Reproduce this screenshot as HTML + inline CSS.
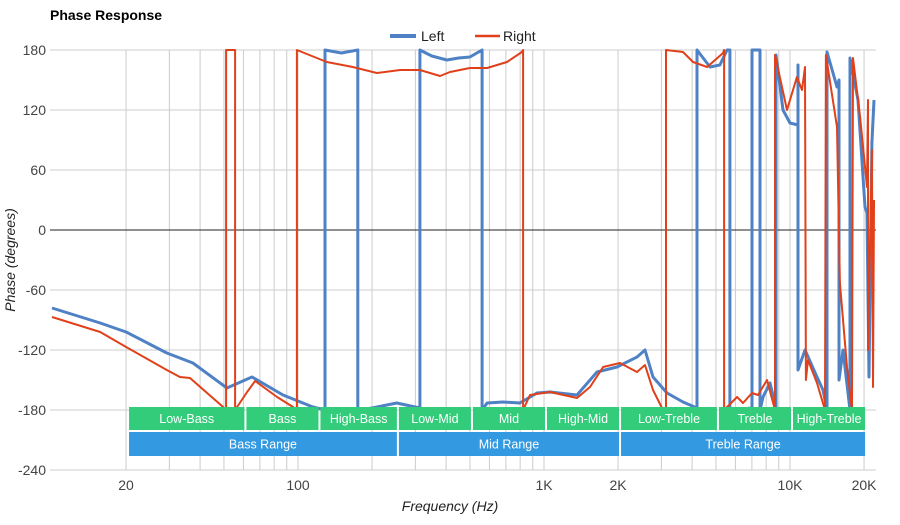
<!DOCTYPE html>
<html><head><meta charset="utf-8"><style>
body{margin:0;background:#fff;}
svg text{font-family:"Liberation Sans",sans-serif;}
</style></head><body>
<svg id="chart" width="900" height="520" viewBox="0 0 900 520" xmlns="http://www.w3.org/2000/svg">
<defs><clipPath id="plotclip"><rect x="50" y="48" width="826" height="424"/></clipPath></defs>
<text x="50" y="20" font-size="14" font-weight="bold" fill="#000">Phase Response</text>
<g>
<g><line x1="390" y1="36" x2="416" y2="36" stroke="#4f81c5" stroke-width="4"/><text x="421" y="41" font-size="14" fill="#222">Left</text></g>
<g><line x1="475" y1="36" x2="500" y2="36" stroke="#e0401a" stroke-width="2.5"/><text x="503" y="41" font-size="14" fill="#222">Right</text></g>
</g>
<g id="grid"></g>
<g id="series" clip-path="url(#plotclip)"></g>
<g id="bands"></g>
<g id="axes"></g>
<text x="450" y="511" font-size="14" font-style="italic" text-anchor="middle" fill="#222">Frequency (Hz)</text>
<text transform="translate(15,260) rotate(-90)" font-size="14" font-style="italic" text-anchor="middle" fill="#222">Phase (degrees)</text>
</svg>
<script>
const yTicks=[180,120,60,0,-60,-120,-180,-240];
const xTickVals=[20,100,1000,2000,10000,20000];
const xTickLabels=["20","100","1K","2K","10K","20K"];
const gridFreqs=[20,30,40,50,60,70,80,90,100,200,300,400,500,600,700,800,900,1000,2000,3000,4000,5000,6000,7000,8000,9000,10000,20000];
const bandNames=["Low-Bass","Bass","High-Bass","Low-Mid","Mid","High-Mid","Low-Treble","Treble","High-Treble"];
const bandEdges=[20,60,120,250,500,1000,2000,5000,10000,20000];
const rangeNames=["Bass Range","Mid Range","Treble Range"];
const rangeEdges=[20,250,2000,20000];
const leftFreq=[10,15.7,20,29.3,37.4,51.4,65,86.9,115,128.7,128.7,150,175,175,200,252,313,313,350,403,450,500,560,560,587,681,798,936,1058,1362,1642,1981,2388,2574,2773,3162,3673,4188,4188,4730,5190,5546,5700,5700,7005,7005,7550,7550,7766,8295,8770,8770,9365,10000,10780,10780,10780,11510,12880,13620,14140,14140,15530,15820,15820,16430,17540,17540,18900,20180,20560,20940,21530,21960];
const leftPhase=[-78,-93,-102,-123,-133,-158,-147,-165,-177,-180,180,177,180,-180,-178,-173,-178,180,174,170,172,173,180,-180,-173,-172,-173,-163,-162,-165,-142,-137,-127,-120,-147,-163,-172,-178,180,163,165,180,180,-180,-178,180,180,-180,-167,-153,-178,175,120,107,105,165,-140,-120,-147,-160,-180,178,143,150,-150,-120,-180,172,130,23,17,-147,87,130];
const rightFreq=[10,15.7,20,29.3,33.1,36.4,49.6,51,51,55.5,55.5,62.1,66.9,82.2,95.4,99,99,131,167,209,260,313,378,415,500,587,707,813,822,822,877,1058,1362,1538,1738,2037,2388,2574,2773,3047,3133,3133,3673,4034,4603,5346,5397,5397,6093,6442,7005,7413,8064,8690,8690,9722,10670,11190,11510,11610,11830,12880,13870,14000,15530,15960,17050,17870,18040,19270,20560,20750,20750,21530,21740,21960];
const rightPhase=[-87,-102,-117,-140,-147,-148,-177,-180,180,180,-180,-162,-151,-167,-177,-180,180,168,163,157,160,160,154,158,162,162,168,178,180,-180,-165,-162,-168,-157,-137,-133,-142,-135,-160,-180,-180,180,178,168,163,177,180,-180,-167,-173,-163,-165,-150,-180,175,120,153,140,163,-150,-130,-153,-180,175,103,-53,-137,-180,172,113,43,130,-120,80,-157,30];

const NS="http://www.w3.org/2000/svg";
function X(f){return 298+246*Math.log10(f/100);}
function Y(v){return 230-v;}
function mk(tag,attrs,parent){const e=document.createElementNS(NS,tag);for(const k in attrs)e.setAttribute(k,attrs[k]);parent.appendChild(e);return e;}
const grid=document.getElementById('grid'),axes=document.getElementById('axes'),series=document.getElementById('series'),bands=document.getElementById('bands');
gridFreqs.forEach(f=>{
  const l=mk('line',{x1:X(f),x2:X(f),y1:50,y2:470,stroke:'#ccc','stroke-width':1},grid);
  
  
});
yTicks.forEach(v=>{
  const l=mk('line',{x1:50,x2:876,y1:Y(v),y2:Y(v),stroke:v===0?'#222':'#ccc','stroke-width':1},grid);
  
  
  const t=mk('text',{x:46,y:Y(v)+5,'font-size':14,'text-anchor':'end',fill:'#444'},axes);
  t.textContent=v;
  
  
});
xTickVals.forEach((f,i)=>{
  const t=mk('text',{x:X(f),y:490,'font-size':14,'text-anchor':'middle',fill:'#444'},axes);
  t.textContent=xTickLabels[i];
  
  
});
function drawSeries(fr,ph,color,w,name){
  const d=fr.map((f,i)=>(i?'L':'M')+X(f).toFixed(1)+','+Y(ph[i]).toFixed(1)).join(' ');
  const p=mk('path',{d:d,fill:'none',stroke:color,'stroke-width':w,'stroke-linejoin':'round'},series);
  
  
}
drawSeries(leftFreq,leftPhase,'#4f81c5',3,'left-phase-line');
drawSeries(rightFreq,rightPhase,'#e0401a',2,'right-phase-line');
function drawBand(names,edges,y,h,color,kind){
  names.forEach((n,i)=>{
    const x1=X(edges[i])+3,x2=X(edges[i+1])+1;
    const r=mk('rect',{x:x1,y:y,width:x2-x1,height:h,fill:color},bands);
    
    
    const t=mk('text',{x:(x1+x2)/2,y:y+h/2+4.5,'font-size':12.5,'text-anchor':'middle',fill:'#fff'},bands);
    t.textContent=n;
    
    
  });
}
drawBand(bandNames,bandEdges,407,23,'#33cc7a','band');
drawBand(rangeNames,rangeEdges,432,24,'#3399e0','range');
</script>
</body></html>
